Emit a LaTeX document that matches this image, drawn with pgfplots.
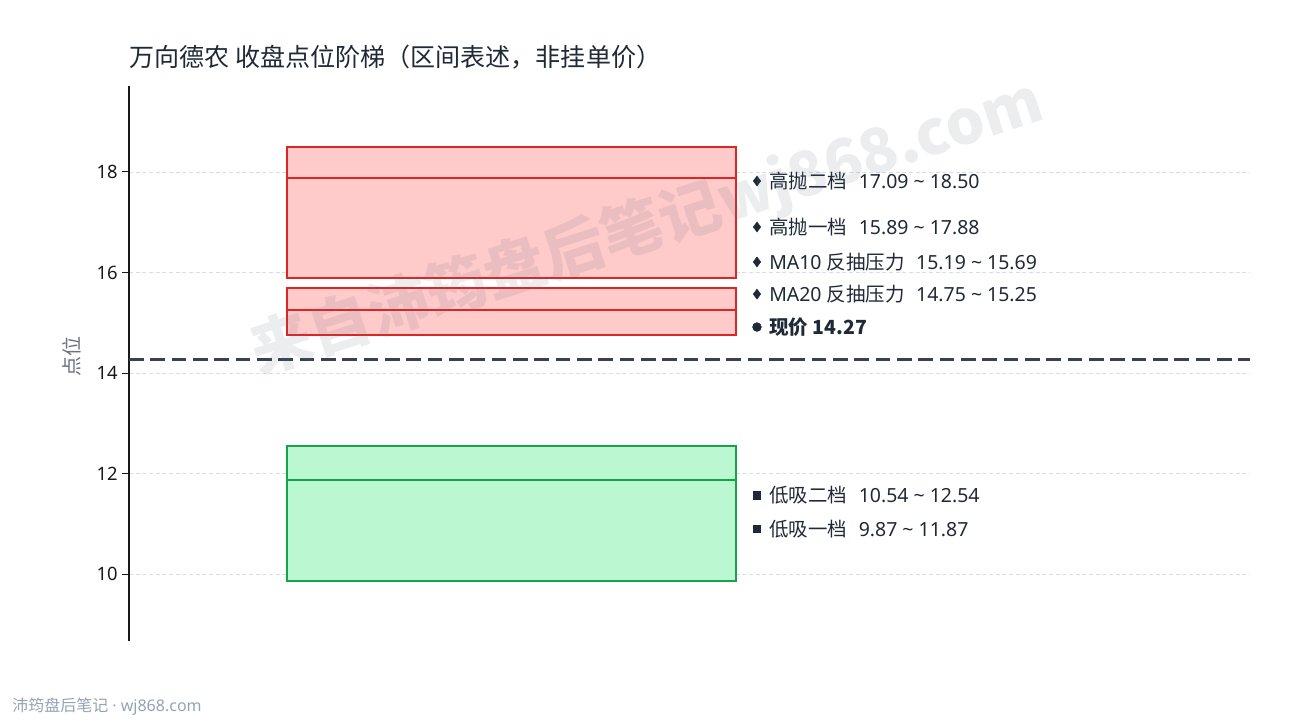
\documentclass[border=0pt]{standalone}
\usepackage{fontspec}
\setmainfont{Noto Sans}
\newfontfamily\cjk{Noto Sans CJK SC}
\usepackage{pgfplots}
\pgfplotsset{compat=1.18}

\definecolor{ink}{HTML}{1F2937}
\definecolor{redline}{HTML}{DC2626}
\definecolor{redfill}{HTML}{FECACA}
\definecolor{grnline}{HTML}{16A34A}
\definecolor{grnfill}{HTML}{BBF7D0}
\definecolor{nowline}{HTML}{374151}
\definecolor{gridc}{HTML}{D9DCE1}
\definecolor{ylab}{HTML}{6B7280}
\definecolor{foot}{HTML}{94A3B8}

% box left/right and label positions (fraction of axis width)
\def\bl{0.141}
\def\br{0.5415}
\def\mx{0.5602}
\def\tx{0.5709}

\begin{document}
\begin{tikzpicture}
\path[use as bounding box] (0pt,0pt) rectangle (967.5pt,540pt);

\begin{axis}[
  at={(96.75pt,59.25pt)}, anchor=south west,
  scale only axis,
  width=840.75pt, height=416.25pt,
  xmin=0, xmax=1,
  ymin=8.67, ymax=19.71,
  axis x line=none,
  axis y line=left,
  axis line style={-, line width=1.1pt, black!90},
  ytick={10,12,14,16,18},
  tick align=outside,
  major tick length=5pt,
  tick style={line width=0.8pt, black!90},
  yticklabel style={font=\fontsize{13.8}{16}\selectfont, text=black!90},
  /pgf/number format/assume math mode=true,
  ymajorgrids,
  grid style={gridc, line width=0.6pt, dash pattern=on 3pt off 2pt},
  clip=false,
]

% high sell zones
\addplot[draw=redline, fill=redfill, line width=1.5pt] coordinates
  {(\bl,17.09) (\br,17.09) (\br,18.50) (\bl,18.50)} -- cycle;
\addplot[draw=redline, fill=redfill, line width=1.5pt] coordinates
  {(\bl,15.89) (\br,15.89) (\br,17.88) (\bl,17.88)} -- cycle;
\addplot[draw=redline, fill=redfill, line width=1.5pt] coordinates
  {(\bl,15.19) (\br,15.19) (\br,15.69) (\bl,15.69)} -- cycle;
\addplot[draw=redline, fill=redfill, line width=1.5pt] coordinates
  {(\bl,14.75) (\br,14.75) (\br,15.25) (\bl,15.25)} -- cycle;

% low buy zones
\addplot[draw=grnline, fill=grnfill, line width=1.5pt] coordinates
  {(\bl,10.54) (\br,10.54) (\br,12.54) (\bl,12.54)} -- cycle;
\addplot[draw=grnline, fill=grnfill, line width=1.5pt] coordinates
  {(\bl,9.87) (\br,9.87) (\br,11.87) (\bl,11.87)} -- cycle;

% current price
\addplot[nowline, line width=1.6pt, dash pattern=on 11pt off 5pt] coordinates
  {(0,14.27) (1,14.27)};

% label markers
\addplot[only marks, mark=diamond*, mark size=3.7pt, ink] coordinates
  {(\mx,17.82) (\mx,16.905) (\mx,16.21) (\mx,15.57)};
\addplot[only marks, mark=*, mark size=3.3pt, ink] coordinates
  {(\mx,14.915)};
\addplot[only marks, mark=square*, mark size=2.8pt, ink] coordinates
  {(\mx,11.57) (\mx,10.90)};

\begin{scope}[every node/.style={anchor=west, inner sep=0pt, text=ink,
    font=\fontsize{14.6}{17}\selectfont}]
\node at (axis cs:\tx,17.82) {{\cjk 高抛二档}\hspace{0.6em}17.09 \textasciitilde{} 18.50};
\node at (axis cs:\tx,16.905) {{\cjk 高抛一档}\hspace{0.6em}15.89 \textasciitilde{} 17.88};
\node at (axis cs:\tx,16.21) {MA10 {\cjk 反抽压力}\hspace{0.6em}15.19 \textasciitilde{} 15.69};
\node at (axis cs:\tx,15.57) {MA20 {\cjk 反抽压力}\hspace{0.6em}14.75 \textasciitilde{} 15.25};
\node at (axis cs:\tx,14.915) {\cjk\bfseries 现价 14.27};
\node at (axis cs:\tx,11.57) {{\cjk 低吸二档}\hspace{0.6em}10.54 \textasciitilde{} 12.54};
\node at (axis cs:\tx,10.90) {{\cjk 低吸一档}\hspace{0.6em}9.87 \textasciitilde{} 11.87};
\end{scope}
\end{axis}

% title, y label, footer, watermark (positions in px * 0.75pt)
\begin{scope}[x=0.75pt, y=0.75pt]
\node[anchor=west, inner sep=0pt, text=ink] at (129,663)
  {\cjk\fontsize{18.8}{22}\selectfont 万向德农 收盘点位阶梯（区间表述，非挂单价）};
\node[rotate=90, inner sep=0pt, text=ylab] at (72,363)
  {\cjk\fontsize{15}{17}\selectfont 点位};
\node[anchor=west, inner sep=0pt, text=foot] at (12,13)
  {\fontsize{12}{14}\selectfont{\cjk 沛筠盘后笔记} · wj868.com};
\node[rotate=18, text=ylab, text opacity=0.13] at (647,492)
  {\cjk\bfseries\fontsize{46}{50}\selectfont 来自沛筠盘后笔记wj868.com};
\end{scope}
\end{tikzpicture}
\end{document}
